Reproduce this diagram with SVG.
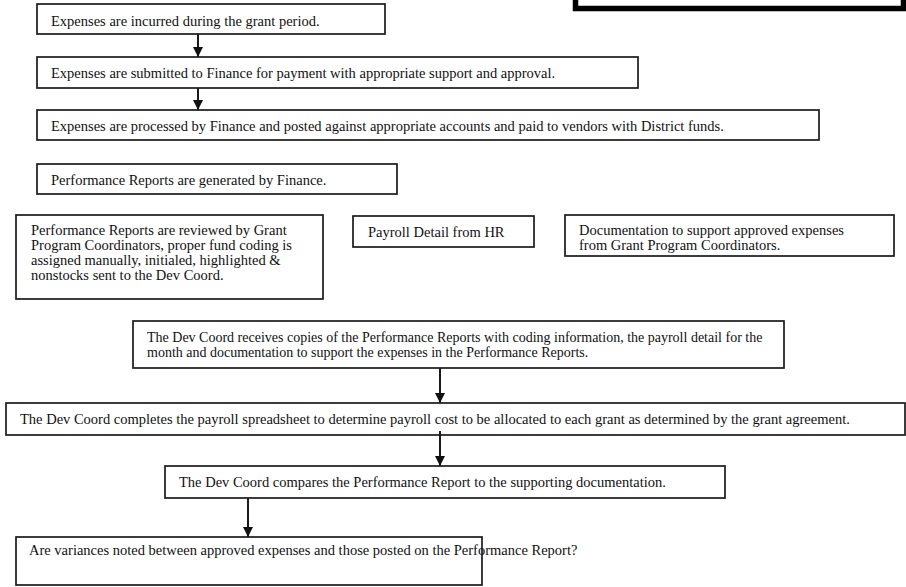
<svg xmlns="http://www.w3.org/2000/svg" width="906" height="587" viewBox="0 0 906 587">
<defs>
<style>
.box{fill:#fff;stroke:#1a1a1a;stroke-width:1.7}
.t{font-family:"Liberation Serif","Times New Roman",serif;font-size:14.5px;fill:#111}
.s{font-size:14px}
.c{stroke:#1a1a1a;stroke-width:2;fill:none}
</style>
<marker id="ah" markerWidth="10" markerHeight="11" viewBox="0 0 10 10" refX="10" refY="5" orient="auto" markerUnits="userSpaceOnUse">
<path d="M0,0 L10,5 L0,10 Z" fill="#111"/>
</marker>
</defs>
<rect width="906" height="587" fill="#fff"/>
<g id="legend"><rect x="575.5" y="-20" width="328" height="28.5" fill="#fff" stroke="#000" stroke-width="5.5"/></g>
<g id="n1"><rect class="box" x="37" y="4" width="348" height="30"/><text class="t" x="51" y="26">Expenses are incurred during the grant period.</text></g>
<g id="n2"><rect class="box" x="37" y="57" width="601" height="31"/><text class="t" x="51" y="78">Expenses are submitted to Finance for payment with appropriate support and approval.</text></g>
<g id="n3"><rect class="box" x="37" y="110" width="782" height="30"/><text class="t" x="51" y="131">Expenses are processed by Finance and posted against appropriate accounts and paid to vendors with District funds.</text></g>
<g id="n4"><rect class="box" x="37" y="164" width="360" height="30"/><text class="t" x="51" y="185">Performance Reports are generated by Finance.</text></g>
<g id="n5"><rect class="box" x="16" y="215" width="307" height="84"/><text class="t" x="31" y="235">Performance Reports are reviewed by Grant<tspan x="31" y="250">Program Coordinators, proper fund coding is</tspan><tspan x="31" y="265">assigned manually, initialed, highlighted &amp;</tspan><tspan x="31" y="280">nonstocks sent to the Dev Coord.</tspan></text></g>
<g id="n6"><rect class="box" x="353" y="216" width="181" height="31"/><text class="t" x="368" y="237">Payroll Detail from HR</text></g>
<g id="n7"><rect class="box" x="565" y="215" width="329" height="41"/><text class="t" x="579" y="235">Documentation to support approved expenses<tspan x="579" y="250">from Grant Program Coordinators.</tspan></text></g>
<g id="n8"><rect class="box" x="133" y="321" width="651" height="47"/><text class="t s" x="147" y="342">The Dev Coord receives copies of the Performance Reports with coding information, the payroll detail for the<tspan x="147" y="357">month and documentation to support the expenses in the Performance Reports.</tspan></text></g>
<g id="n9"><rect class="box" x="6" y="403" width="899" height="32"/><text class="t" x="20" y="424">The Dev Coord completes the payroll spreadsheet to determine payroll cost to be allocated to each grant as determined by the grant agreement.</text></g>
<g id="n10"><rect class="box" x="165" y="466" width="560" height="32"/><text class="t" x="179" y="487">The Dev Coord compares the Performance Report to the supporting documentation.</text></g>
<g id="n11"><rect class="box" x="16" y="537" width="466" height="48"/><text class="t" x="29" y="555">Are variances noted between approved expenses and those posted on the Performance Report?</text></g>
<g id="connectors">
<line class="c" x1="198" y1="34" x2="198" y2="57" marker-end="url(#ah)"/>
<line class="c" x1="198" y1="88" x2="198" y2="110" marker-end="url(#ah)"/>
<line class="c" x1="440" y1="368" x2="440" y2="403" marker-end="url(#ah)"/>
<line class="c" x1="440" y1="431" x2="440" y2="466" marker-end="url(#ah)"/>
<line class="c" x1="248" y1="498" x2="248" y2="537" marker-end="url(#ah)"/>
</g>
</svg>
